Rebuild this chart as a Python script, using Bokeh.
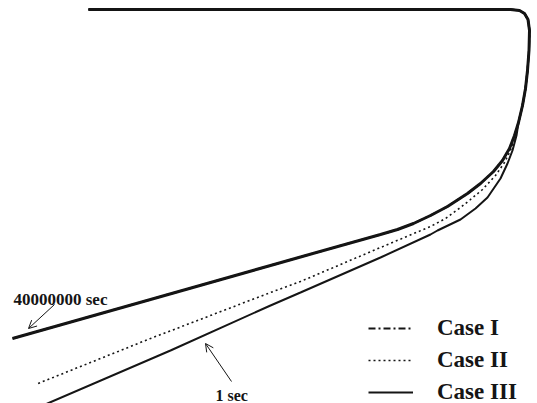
from bokeh.plotting import figure
from bokeh.models import Range1d, Legend, LegendItem, Label, Arrow, OpenHead
from bokeh.embed import file_html
from bokeh.resources import INLINE

# Profile outline (shared part: top edge and right side), in drawing units
common_x = [88, 200, 350, 480, 510, 519, 524, 527.5, 529, 528.5, 527, 525, 522, 518]
common_y = [9, 9, 9, 9, 9, 10, 13, 19, 30, 50, 70, 88, 105, 122]

# Lower branch after 40000000 sec (all cases coincide)
long_x = [514, 509, 502, 493, 480, 467, 447, 430, 413, 397, 380, 300, 270, 150, 12]
long_y = [135, 148, 160, 171, 183, 193, 206, 215, 223, 229, 234, 256.5, 265, 299, 338]

# Lower branch after 1 sec, Case II
c2_x = [515, 510, 504, 495, 482, 470, 460, 445, 430, 380, 300, 270, 150, 35]
c2_y = [135, 150, 162, 175, 189, 199, 207, 218, 226, 247, 281, 292, 338, 384]

# Lower branch after 1 sec, Case III
c3_x = [516, 512, 507, 500, 487, 475, 460, 437, 430, 380, 300, 270, 170, 47, 38]
c3_y = [135, 150, 163, 178, 197, 208, 219, 230, 234, 257, 292, 305, 350, 403, 407]

case_labels = ["Case I", "Case II", "Case III"]
label_long = "40000000 sec"
label_short = "1 sec"

ink = "#151515"

p = figure(width=537, height=403, output_backend="svg", toolbar_location=None,
           x_range=Range1d(0, 537), y_range=Range1d(403, 0),
           min_border=0, outline_line_color=None, background_fill_color="white")
p.xaxis.visible = False
p.yaxis.visible = False
p.xgrid.visible = False
p.ygrid.visible = False

# Case III solid under the 40000000 sec branch
p.line(common_x + long_x, common_y + long_y, line_color=ink, line_width=3)
# Case I dash-dot (coincides with 40000000 sec branch)
r1 = p.line(common_x + long_x, common_y + long_y, line_color=ink, line_width=2,
            line_dash="7 3 2 3")
# Case II dotted (1 sec)
r2 = p.line(common_x + c2_x, common_y + c2_y, line_color=ink, line_width=1.6,
            line_dash="2 3")
# Case III solid (1 sec)
r3 = p.line(common_x + c3_x, common_y + c3_y, line_color=ink, line_width=2)

legend = Legend(items=[LegendItem(label=case_labels[0], renderers=[r1]),
                       LegendItem(label=case_labels[1], renderers=[r2]),
                       LegendItem(label=case_labels[2], renderers=[r3])],
                location=(368, -4), padding=0, margin=0, spacing=2,
                glyph_width=45, glyph_height=30, label_height=30,
                label_standoff=24, border_line_alpha=0, background_fill_alpha=0,
                label_text_font="Liberation Serif", label_text_font_style="bold",
                label_text_font_size="23px", label_text_color=ink)
p.add_layout(legend)

p.add_layout(Label(x=13, y=299, text=label_long, text_font="Liberation Serif",
                   text_font_style="bold", text_font_size="17px", text_color=ink,
                   text_baseline="alphabetic"))
p.add_layout(Label(x=215, y=395, text=label_short, text_font="Liberation Serif",
                   text_font_style="bold", text_font_size="16px", text_color=ink,
                   text_baseline="alphabetic"))

p.add_layout(Arrow(end=OpenHead(size=8, line_width=1, line_color=ink),
                   x_start=54, y_start=304, x_end=28, y_end=328,
                   line_width=1, line_color=ink))
p.add_layout(Arrow(end=OpenHead(size=8, line_width=1, line_color=ink),
                   x_start=231, y_start=381, x_end=205, y_end=343,
                   line_width=1, line_color=ink))

open("out.html", "w").write(file_html(p, INLINE))
